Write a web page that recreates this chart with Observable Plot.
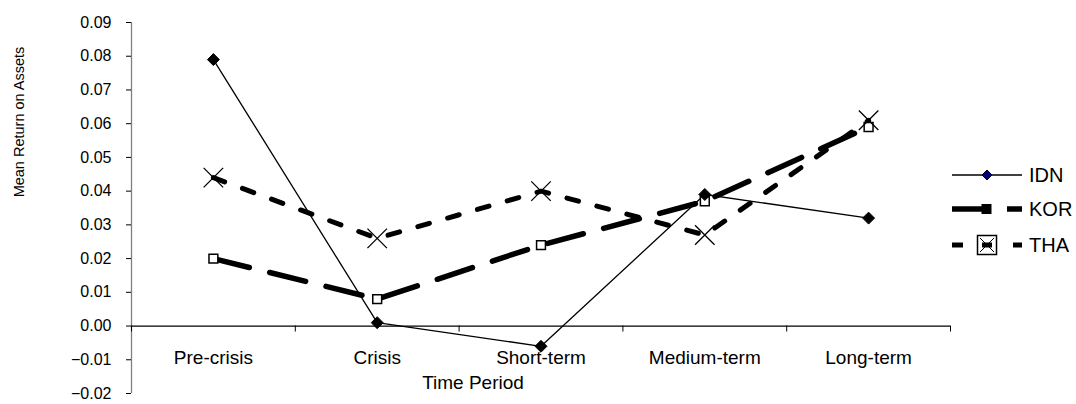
<!DOCTYPE html>
<html>
<head>
<meta charset="utf-8">
<script src="https://cdn.jsdelivr.net/npm/d3@7"></script>
<script src="https://cdn.jsdelivr.net/npm/@observablehq/plot@0.6"></script>
<style>
  html, body { margin: 0; padding: 0; background: #fff; }
  #wrap { position: relative; width: 1076px; height: 404px; font-family: "Liberation Sans", Arial, sans-serif; }
  #legend { position: absolute; left: 0; top: 0; pointer-events: none; }
</style>
</head>
<body>
<div id="wrap"></div>
<script>
// ---- data ----
const categories = ["Pre-crisis", "Crisis", "Short-term", "Medium-term", "Long-term"];
const seriesNames = ["IDN", "KOR", "THA"];
const idn = [0.079, 0.001, -0.006, 0.039, 0.032];
const kor = [0.020, 0.008, 0.024, 0.037, 0.059];
const tha = [0.044, 0.026, 0.040, 0.027, 0.061];
const yTicks = [-0.02, -0.01, 0.00, 0.01, 0.02, 0.03, 0.04, 0.05, 0.06, 0.07, 0.08, 0.09];
const xLabel = "Time Period";
const yLabel = "Mean Return on Assets";

// ---- build table ----
const valuesBySeries = {IDN: idn, KOR: kor, THA: tha};
const rows = seriesNames.flatMap(s => valuesBySeries[s].map((v, i) => ({series: s, cat: categories[i], i, value: v})));
const of = s => rows.filter(d => d.series === s);
const catPos = d => d.i + 0.5;
const boundaries = d3.range(0, categories.length + 1);

// custom symbols
const diamond = {draw(ctx, size) { const r = Math.sqrt(size) * 0.75; ctx.moveTo(0, -r); ctx.lineTo(r, 0); ctx.lineTo(0, r); ctx.lineTo(-r, 0); ctx.closePath(); }};
const square = {draw(ctx, size) { const r = Math.sqrt(size) / 2; ctx.rect(-r, -r, 2 * r, 2 * r); }};
const cross = {draw(ctx, size) { const r = Math.sqrt(size) / 2; ctx.moveTo(-r, -r); ctx.lineTo(r, r); ctx.moveTo(r, -r); ctx.lineTo(-r, r); }};

const FONT = "Liberation Sans, Arial, sans-serif";

const chart = Plot.plot({
  width: 1076,
  height: 404,
  marginLeft: 131,
  marginRight: 126,
  marginTop: 22,
  marginBottom: 11,
  style: {fontFamily: FONT, background: "white", color: "black"},
  x: {type: "linear", domain: [0, categories.length], axis: null},
  y: {domain: [-0.02, 0.09], axis: null},
  marks: [
    Plot.ruleX([0], {stroke: "#808080", strokeWidth: 1.3}),
    Plot.axisY({ticks: yTicks, tickFormat: d3.format(".2f"), tickSize: 5, tickPadding: 15, fontSize: 16, label: null, stroke: "black"}),
    Plot.ruleY([0], {stroke: "black", strokeWidth: 1.2}),
    Plot.ruleX(boundaries, {x: d => d, y1: 0, y2: 0, insetBottom: -6, stroke: "black"}),
    Plot.axisX({ticks: categories.map((c, i) => i + 0.5), tickFormat: v => categories[Math.floor(v)], tickSize: 0, fontSize: 19, dy: -52, label: null}),
    Plot.text([xLabel], {frameAnchor: "bottom", dx: -68, dy: -5, fontSize: 19}),
    // lines
    Plot.line(of("KOR"), {x: catPos, y: "value", stroke: "black", strokeWidth: 5.5, strokeDasharray: "37,21"}),
    Plot.line(of("THA"), {x: catPos, y: "value", stroke: "black", strokeWidth: 5, strokeDasharray: "12,19"}),
    Plot.line(of("IDN"), {x: catPos, y: "value", stroke: "black", strokeWidth: 1.3}),
    // markers
    Plot.dot(of("KOR"), {x: catPos, y: "value", symbol: square, r: 5, fill: "white", stroke: "black", strokeWidth: 1.5}),
    Plot.dot(of("THA"), {x: catPos, y: "value", symbol: cross, r: 11, fill: "none", stroke: "black", strokeWidth: 1.3}),
    Plot.dot(of("IDN"), {x: catPos, y: "value", symbol: diamond, r: 4.5, fill: "black", stroke: "black", strokeWidth: 1})
  ]
});

const wrap = document.getElementById("wrap");
wrap.appendChild(chart);

// ---- overlay: y-axis title and legend ----
const leg = d3.select(wrap).append("svg").attr("id", "legend").attr("width", 1076).attr("height", 404);
leg.append("text").attr("transform", "translate(19,122) rotate(-90)").attr("text-anchor", "middle").attr("dy", "0.35em")
  .attr("font-family", FONT).attr("font-size", 14.5).text(yLabel);

const lx0 = 952, lx1 = 1022, lxm = 987, ltx = 1029;
const ly = {IDN: 175, KOR: 209, THA: 245};
seriesNames.forEach(s => {
  const g = leg.append("g").attr("transform", `translate(0,${ly[s]})`);
  if (s === "IDN") {
    g.append("line").attr("x1", lx0).attr("x2", lx1).attr("stroke", "black").attr("stroke-width", 1.3);
    g.append("path").attr("d", "M0,-5L5,0L0,5L-5,0Z").attr("transform", `translate(${lxm},0)`).attr("fill", "#000080").attr("stroke", "black").attr("stroke-width", 1);
  } else if (s === "KOR") {
    g.append("line").attr("x1", lx0).attr("x2", lx1).attr("stroke", "black").attr("stroke-width", 5.5).attr("stroke-dasharray", "37,18");
    g.append("rect").attr("x", lxm - 5).attr("y", -4.5).attr("width", 9).attr("height", 9).attr("fill", "black").attr("stroke", "black");
  } else {
    g.append("line").attr("x1", lx0).attr("x2", lx1).attr("stroke", "black").attr("stroke-width", 5).attr("stroke-dasharray", "11,50,11");
    g.append("rect").attr("x", lxm - 9.5).attr("y", -9.5).attr("width", 19).attr("height", 19).attr("fill", "white").attr("stroke", "black").attr("stroke-width", 1.5);
    g.append("rect").attr("x", lxm - 5).attr("y", -2.5).attr("width", 10).attr("height", 5).attr("fill", "black");
    g.append("path").attr("d", `M${lxm-7},-7L${lxm+7},7M${lxm+7},-7L${lxm-7},7`).attr("stroke", "black").attr("stroke-width", 1);
  }
  g.append("text").attr("x", ltx).attr("y", 0).attr("dy", "0.35em").attr("font-family", FONT).attr("font-size", 20).text(s);
});
</script>
</body>
</html>
